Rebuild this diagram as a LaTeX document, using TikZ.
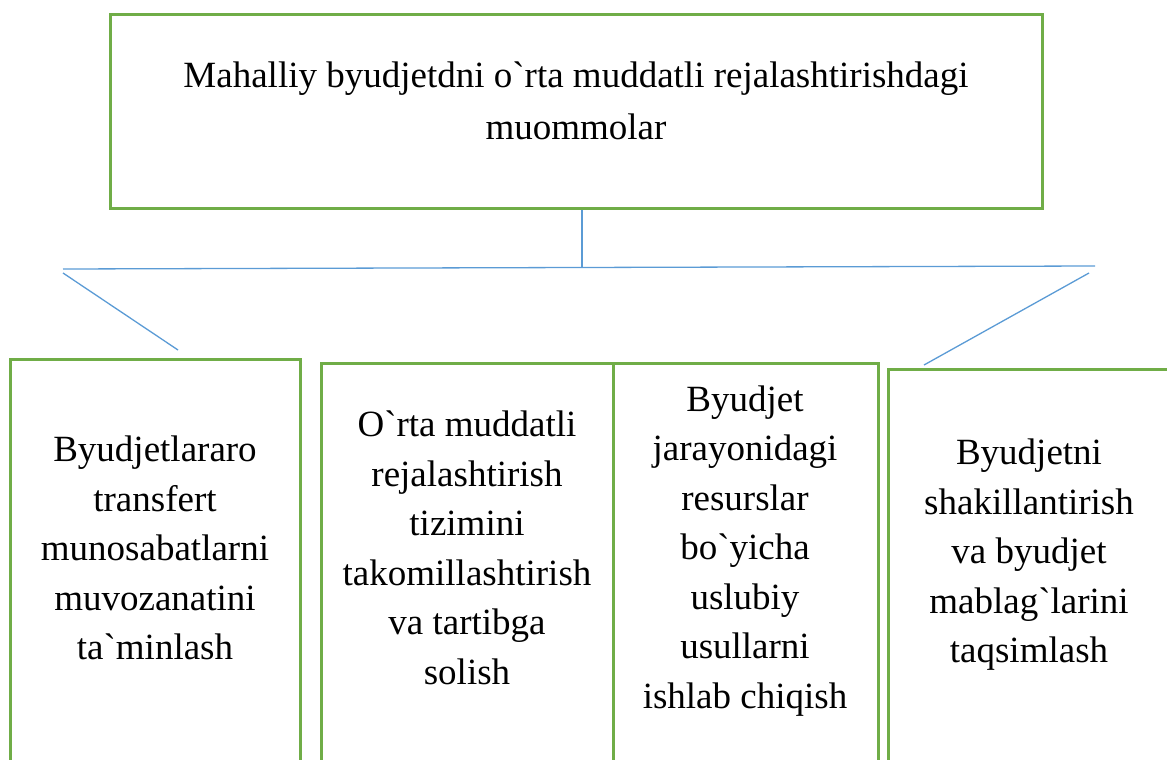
\documentclass[tikz,border=0pt]{standalone}
\usepackage{fontspec}
\setmainfont{Liberation Serif}[Ligatures=TeXOff]
\definecolor{boxgreen}{RGB}{112,173,71}
\definecolor{linkblue}{RGB}{91,155,213}
\begin{document}
\begin{tikzpicture}[x=1pt,y=-1pt,
  box/.style={draw=boxgreen,line width=3pt,inner sep=0pt},
  link/.style={draw=linkblue,line width=1.3pt},
  caption/.style={align=center,inner sep=0pt,font=\fontsize{37}{49.5}\selectfont}]
\useasboundingbox (0,0) rectangle (1167,760);
\clip (0,0) rectangle (1167,760);

% heading box
\node[box,minimum width=932pt,minimum height=193pt] (top) at (576,111.5) {};
\node[align=center,inner sep=0pt,font=\fontsize{37}{52}\selectfont] (toptext) at (576,101)
  {Mahalliy byudjetdni o`rta muddatli rejalashtirishdagi\\muommolar};

% branching lines
\coordinate (hm) at (582,267.5);
\coordinate (hl) at (63,269);
\coordinate (hr) at (1095,266);
\coordinate (dl1) at (63,273);
\coordinate (dl2) at (178,350);
\coordinate (dr1) at (1089,273);
\coordinate (dr2) at (924,365);
\draw[link] (top.south -| hm) -- (hm);
\draw[link] (hl) -- (hr);
\draw[link] (dl1) -- (dl2);
\draw[link] (dr1) -- (dr2);

% lower boxes (running past the bottom edge)
\node[box,minimum width=290pt,minimum height=441pt] (b1) at (155,579.5) {};
\node[box,minimum width=292pt,minimum height=437pt] (b2) at (467,581.5) {};
\node[box,minimum width=265pt,minimum height=437pt] (b3) at (745.5,581.5) {};
\node[box,minimum width=282pt,minimum height=431pt] (b4) at (1029,584.5) {};

\node[caption] (t1) at (155,548)
  {Byudjetlararo\\transfert\\munosabatlarni\\muvozanatini\\ta`minlash};
\node[caption] (t2) at (467,548)
  {O`rta muddatli\\rejalashtirish\\tizimini\\takomillashtirish\\va tartibga\\solish};
\node[caption] (t3) at (745,551)
  {Byudjet\\jarayonidagi\\resurslar\\bo`yicha\\uslubiy\\usullarni\\ishlab chiqish};
\node[caption] (t4) at (1029,555)
  {Byudjetni\\shakillantirish\\va byudjet\\mablag`larini\\taqsimlash};
\end{tikzpicture}
\end{document}
